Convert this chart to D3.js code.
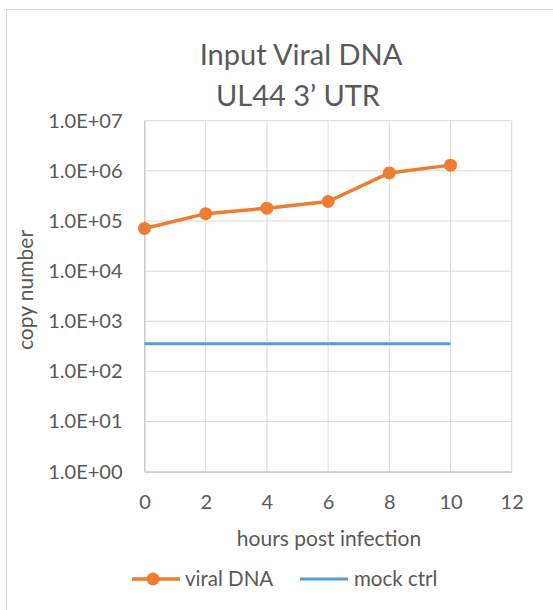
<!DOCTYPE html>
<html>
<head>
<meta charset="utf-8">
<script src="https://cdn.jsdelivr.net/npm/d3@7"></script>
<style>
  body { margin: 0; background: #fff; }
  text { font-family: Lato, "Open Sans", sans-serif; fill: #595959; }
</style>
</head>
<body>
<div id="chart"></div>
<script>
// data
const hours = [0, 2, 4, 6, 8, 10];
const viralDNA = [71000, 140000, 180000, 245000, 910000, 1300000];
const mockHours = [0, 10];
const mockCtrl = [357, 357];
const yTicks = [1, 10, 100, 1000, 10000, 100000, 1000000, 10000000];
const xTicks = [0, 2, 4, 6, 8, 10, 12];
const titleLines = ["Input Viral DNA", "UL44 3\u2019 UTR"];

const width = 553, height = 610;
const margin = { top: 120.7, left: 144.5, right: 41.3, bottom: 138.3 };

const orange = "#ED7D31", blue = "#5B9BD5", grid = "#d9d9d9";
const font = "Lato, sans-serif";

const svg = d3.select("#chart").append("svg")
  .attr("width", width)
  .attr("height", height);

// chart frame
svg.append("rect")
  .attr("x", 6.5).attr("y", 9.5)
  .attr("width", 560).attr("height", 620)
  .attr("fill", "none")
  .attr("stroke", grid);

const x = d3.scaleLinear().domain([0, 12]).range([margin.left, width - margin.right]);
const y = d3.scaleLog().domain([1, 1e7]).range([height - margin.bottom, margin.top]);

// gridlines
svg.append("g")
  .selectAll("line")
  .data(yTicks)
  .join("line")
  .attr("x1", x(0)).attr("x2", x(12))
  .attr("y1", d => y(d)).attr("y2", d => y(d))
  .attr("stroke", grid);

svg.append("g")
  .selectAll("line")
  .data(xTicks)
  .join("line")
  .attr("x1", d => x(d)).attr("x2", d => x(d))
  .attr("y1", y(1)).attr("y2", y(1e7))
  .attr("stroke", grid);

// axes
const yAxis = svg.append("g")
  .attr("transform", `translate(${x(0)},0)`)
  .call(d3.axisLeft(y).tickValues(yTicks).tickSize(0).tickPadding(22)
    .tickFormat(d => "1.0E+" + String(Math.round(Math.log10(d))).padStart(2, "0")));
yAxis.select(".domain").attr("stroke", "#bfbfbf");
yAxis.selectAll("text")
  .style("font-size", "20px").style("font-family", font).style("fill", "#595959");

const xAxis = svg.append("g")
  .attr("transform", `translate(0,${y(1)})`)
  .call(d3.axisBottom(x).tickValues(xTicks).tickSize(0));
xAxis.select(".domain").attr("stroke", "#bfbfbf");
xAxis.selectAll("text")
  .attr("y", 37.5).attr("dy", 0)
  .style("font-size", "20px").style("font-family", font).style("fill", "#595959");

// title
svg.append("text")
  .attr("text-anchor", "middle")
  .style("font-size", "29px")
  .selectAll("tspan")
  .data(titleLines)
  .join("tspan")
  .attr("x", (d, i) => i ? 298 : 301)
  .attr("y", (d, i) => 65 + i * 40.5)
  .text(d => d);

// axis labels
svg.append("text")
  .attr("text-anchor", "middle")
  .style("font-size", "21px")
  .attr("x", 329).attr("y", 546)
  .text("hours post infection");

svg.append("text")
  .attr("text-anchor", "middle")
  .style("font-size", "21px")
  .attr("transform", "translate(33,290) rotate(-90)")
  .text("copy number");

// series
const line = d3.line().x(d => x(d[0])).y(d => y(d[1]));

svg.append("path")
  .datum(d3.zip(mockHours, mockCtrl))
  .attr("d", line)
  .attr("fill", "none")
  .attr("stroke", blue)
  .attr("stroke-width", 3);

svg.append("path")
  .datum(d3.zip(hours, viralDNA))
  .attr("d", line)
  .attr("fill", "none")
  .attr("stroke", orange)
  .attr("stroke-width", 3.5)
  .attr("stroke-linejoin", "round");

svg.append("g")
  .selectAll("circle")
  .data(d3.zip(hours, viralDNA))
  .join("circle")
  .attr("cx", d => x(d[0]))
  .attr("cy", d => y(d[1]))
  .attr("r", 6.5)
  .attr("fill", orange);

// legend
const legend = svg.append("g").attr("transform", "translate(0,579)");
legend.append("line")
  .attr("x1", 132).attr("x2", 180)
  .attr("stroke", orange).attr("stroke-width", 3.5);
legend.append("circle").attr("cx", 153).attr("r", 6.5).attr("fill", orange);
legend.append("text").attr("x", 185).attr("dy", "0.36em")
  .style("font-size", "20.5px").text("viral DNA");

legend.append("line")
  .attr("x1", 300).attr("x2", 348)
  .attr("stroke", blue).attr("stroke-width", 3);
legend.append("text").attr("x", 354).attr("dy", "0.36em")
  .style("font-size", "20.5px").text("mock ctrl");
</script>
</body>
</html>
